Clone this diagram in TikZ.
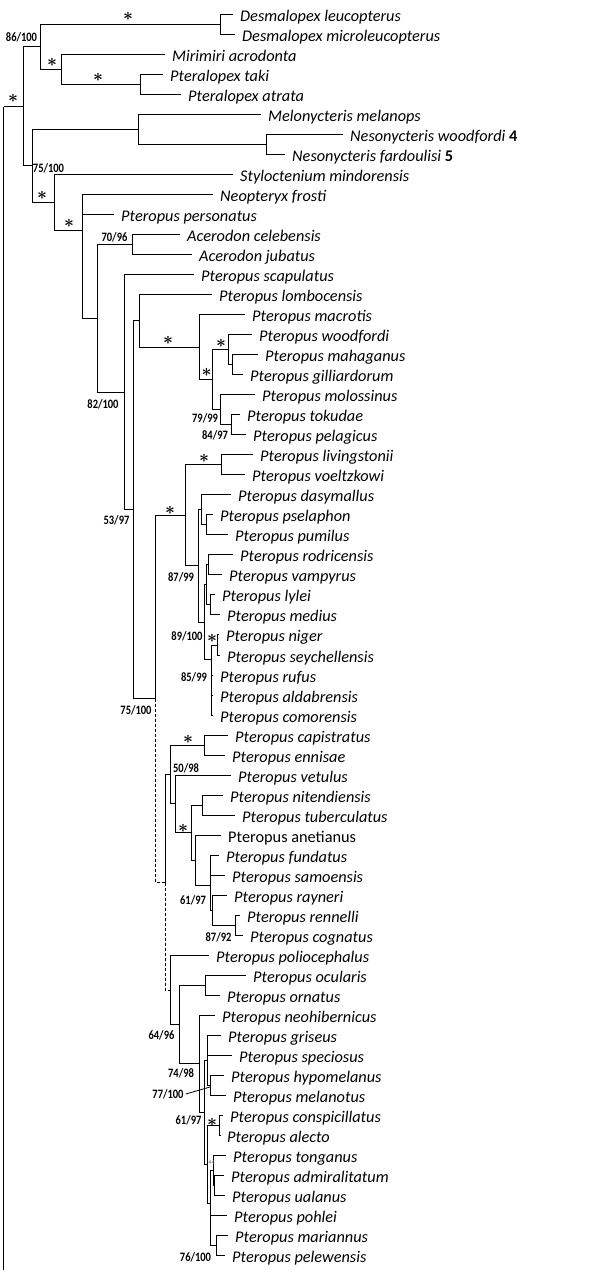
\documentclass[tikz,border=0pt]{standalone}
\usepackage{fontspec}
\setmainfont{Carlito}
\newfontfamily\labfont[FakeStretch=0.82]{Carlito}
\begin{document}
\begin{tikzpicture}[x=1pt,y=-1pt,
  br/.style={line width=1.2pt},
  dsh/.style={line width=1.2pt,dash pattern=on 3pt off 2pt},
  lf/.style={shorten >=7pt},
  tip/.style={anchor=west,inner sep=0pt,text height=13pt,text depth=0pt,font=\fontsize{16.3}{18}\selectfont\itshape},
  sup/.style={inner sep=0pt,font=\labfont\bfseries\fontsize{12.8}{13}\selectfont},
  star/.style={inner sep=0pt,font=\fontsize{17}{17}\selectfont\boldmath}]
\useasboundingbox (0,0) rectangle (593,1270);
% ---------- tips ----------
\node[tip] (t1) at (240,14.5) {Desmalopex leucopterus};
\node[tip] (t2) at (242,34.5) {Desmalopex microleucopterus};
\node[tip] (t3) at (172,54.5) {Mirimiri acrodonta};
\node[tip] (t4) at (170,74.5) {Pteralopex taki};
\node[tip] (t5) at (188,94.5) {Pteralopex atrata};
\node[tip] (t6) at (268,114.5) {Melonycteris melanops};
\node[tip] (t7) at (350,134.5) {Nesonycteris woodfordi {\upshape\bfseries 4}};
\node[tip] (t8) at (292,154.5) {Nesonycteris fardoulisi {\upshape\bfseries 5}};
\node[tip] (t9) at (240,174.5) {Styloctenium mindorensis};
\node[tip] (t10) at (220,194.5) {Neopteryx frosti};
\node[tip] (t11) at (121,214.5) {Pteropus personatus};
\node[tip] (t12) at (187,234.5) {Acerodon celebensis};
\node[tip] (t13) at (199,254.5) {Acerodon jubatus};
\node[tip] (t14) at (201,274.5) {Pteropus scapulatus};
\node[tip] (t15) at (219,294.5) {Pteropus lombocensis};
\node[tip] (t16) at (252,314.5) {Pteropus macrotis};
\node[tip] (t17) at (259,334.5) {Pteropus woodfordi};
\node[tip] (t18) at (265,354.5) {Pteropus mahaganus};
\node[tip] (t19) at (250,374.5) {Pteropus gilliardorum};
\node[tip] (t20) at (262,394.5) {Pteropus molossinus};
\node[tip] (t21) at (247,414.5) {Pteropus tokudae};
\node[tip] (t22) at (253,434.5) {Pteropus pelagicus};
\node[tip] (t23) at (260,454.5) {Pteropus livingstonii};
\node[tip] (t24) at (252,474.5) {Pteropus voeltzkowi};
\node[tip] (t25) at (238,494.5) {Pteropus dasymallus};
\node[tip] (t26) at (220,514.5) {Pteropus pselaphon};
\node[tip] (t27) at (235,534.5) {Pteropus pumilus};
\node[tip] (t28) at (240,554.5) {Pteropus rodricensis};
\node[tip] (t29) at (229,574.5) {Pteropus vampyrus};
\node[tip] (t30) at (222,594.5) {Pteropus lylei};
\node[tip] (t31) at (227,614.5) {Pteropus medius};
\node[tip] (t32) at (226,634.5) {Pteropus niger};
\node[tip] (t33) at (227,655.5) {Pteropus seychellensis};
\node[tip] (t34) at (220,675.5) {Pteropus rufus};
\node[tip] (t35) at (220,695.5) {Pteropus aldabrensis};
\node[tip] (t36) at (220,715.5) {Pteropus comorensis};
\node[tip] (t37) at (235,735.5) {Pteropus capistratus};
\node[tip] (t38) at (232,755.5) {Pteropus ennisae};
\node[tip] (t39) at (238,775.5) {Pteropus vetulus};
\node[tip] (t40) at (230,795.5) {Pteropus nitendiensis};
\node[tip] (t41) at (242,815.5) {Pteropus tuberculatus};
\node[tip] (t42) at (228,835.5) {\upshape Pteropus anetianus};
\node[tip] (t43) at (226,855.5) {Pteropus fundatus};
\node[tip] (t44) at (232,875.5) {Pteropus samoensis};
\node[tip] (t45) at (234,895.5) {Pteropus rayneri};
\node[tip] (t46) at (247,915.5) {Pteropus rennelli};
\node[tip] (t47) at (250,935.5) {Pteropus cognatus};
\node[tip] (t48) at (216,955.5) {Pteropus poliocephalus};
\node[tip] (t49) at (253,975.5) {Pteropus ocularis};
\node[tip] (t50) at (227,995.5) {Pteropus ornatus};
\node[tip] (t51) at (222,1015.5) {Pteropus neohibernicus};
\node[tip] (t52) at (228,1035.5) {Pteropus griseus};
\node[tip] (t53) at (239,1055.5) {Pteropus speciosus};
\node[tip] (t54) at (231,1075.5) {Pteropus hypomelanus};
\node[tip] (t55) at (233,1095.5) {Pteropus melanotus};
\node[tip] (t56) at (230,1115.5) {Pteropus conspicillatus};
\node[tip] (t57) at (227,1135.5) {Pteropus alecto};
\node[tip] (t58) at (233,1155.5) {Pteropus tonganus};
\node[tip] (t59) at (231,1175.5) {Pteropus admiralitatum};
\node[tip] (t60) at (232,1195.5) {Pteropus ualanus};
\node[tip] (t61) at (234,1215.5) {Pteropus pohlei};
\node[tip] (t62) at (235,1235.5) {Pteropus mariannus};
\node[tip] (t63) at (232,1255.5) {Pteropus pelewensis};
% ---------- internal nodes ----------
\coordinate (root) at (3.5,106.5);
\coordinate (rootend) at (3.5,1272);
\coordinate (n23) at (23.5,106.5);
\coordinate (n86) at (40.5,46.5);
\coordinate (nDes) at (220.5,24.5);
\coordinate (nMP) at (61.5,69.5);
\coordinate (nPtx) at (140.5,84.5);
\coordinate (n32) at (32.5,165.5);
\coordinate (nMel) at (138.5,129.5);
\coordinate (nNes) at (266.5,144.5);
\coordinate (n54) at (54.5,202.5);
\coordinate (n82) at (82.5,230.5);
\coordinate (n97) at (97.5,318.5);
\coordinate (nAce) at (132.5,244.5);
\coordinate (n124) at (124.5,392.5);
\coordinate (n133) at (133.5,509.5);
\coordinate (n139) at (139.5,320.5);
\coordinate (n199) at (199.5,347.5);
\coordinate (n212) at (212.5,379.5);
\coordinate (n228) at (228.5,349.5);
\coordinate (n232) at (232.5,364.5);
\coordinate (n220) at (220.5,409.5);
\coordinate (n231) at (231.5,424.5);
\coordinate (n155) at (155.5,698.5);
\coordinate (n185) at (185.5,515.5);
\coordinate (n221) at (221.5,464.5);
\coordinate (nB1) at (198.5,565.5);
\coordinate (nB2) at (201.5,509.5);
\coordinate (nB3) at (206.5,524.5);
\coordinate (nB4) at (204.5,622.5);
\coordinate (nB5) at (206.5,584.5);
\coordinate (nRV) at (208.5,564.5);
\coordinate (nLM) at (210.5,604.5);
\coordinate (nB6) at (211.5,659.5);
\coordinate (nNS) at (217.5,645.5);
\coordinate (n166) at (165.5,882.5);
\coordinate (n171) at (170.5,774.5);
\coordinate (nCE) at (204.5,745.5);
\coordinate (n175) at (175.5,803.5);
\coordinate (n192) at (191.5,832.5);
\coordinate (nNT) at (202.5,805.5);
\coordinate (n195) at (195.5,860.5);
\coordinate (n211) at (210.5,885.5);
\coordinate (n212b) at (212.5,910.5);
\coordinate (nRC) at (235.5,925.5);
\coordinate (n170) at (170.5,990.5);
\coordinate (n179) at (179.5,1024.5);
\coordinate (nOO) at (205.5,985.5);
\coordinate (n199b) at (199.5,1063.5);
\coordinate (n204) at (204.5,1112.5);
\coordinate (n207) at (207.5,1060.5);
\coordinate (nHM) at (210.5,1085.5);
\coordinate (n207b) at (207.5,1164.5);
\coordinate (nCA) at (219.5,1125.5);
\coordinate (n210) at (210.5,1203.5);
\coordinate (n213) at (213.5,1170.5);
\coordinate (nAU) at (214.5,1185.5);
\coordinate (nMP2) at (216.5,1245.5);
% ---------- branches ----------
\draw[br] (root) -- (rootend);
\draw[br] (root) -- (n23);
\draw[br] (n23) |- (n86);
\draw[br] (n23) |- (n32);
\draw[br] (n86) |- (nDes);
\draw[br] (n86) |- (nMP);
\draw[br,lf] (nDes) |- (t1.west);
\draw[br,lf] (nDes) |- (t2.west);
\draw[br,lf] (nMP) |- (t3.west);
\draw[br] (nMP) |- (nPtx);
\draw[br,lf] (nPtx) |- (t4.west);
\draw[br,lf] (nPtx) |- (t5.west);
\draw[br] (n32) |- (nMel);
\draw[br] (n32) |- (n54);
\draw[br,lf] (nMel) |- (t6.west);
\draw[br] (nMel) |- (nNes);
\draw[br,lf] (nNes) |- (t7.west);
\draw[br,lf] (nNes) |- (t8.west);
\draw[br,lf] (n54) |- (t9.west);
\draw[br] (n54) |- (n82);
\draw[br,lf] (n82) |- (t10.west);
\draw[br,lf] (n82) |- (t11.west);
\draw[br] (n82) |- (n97);
\draw[br] (n97) |- (nAce);
\draw[br] (n97) |- (n124);
\draw[br,lf] (nAce) |- (t12.west);
\draw[br,lf] (nAce) |- (t13.west);
\draw[br,lf] (n124) |- (t14.west);
\draw[br] (n124) |- (n133);
\draw[br] (n133) |- (n139);
\draw[br] (n133) |- (n155);
\draw[br,lf] (n139) |- (t15.west);
\draw[br] (n139) |- (n199);
\draw[br,lf] (n199) |- (t16.west);
\draw[br] (n199) |- (n212);
\draw[br] (n212) |- (n228);
\draw[br] (n212) |- (n220);
\draw[br,lf] (n228) |- (t17.west);
\draw[br] (n228) |- (n232);
\draw[br,lf] (n232) |- (t18.west);
\draw[br,lf] (n232) |- (t19.west);
\draw[br,lf] (n220) |- (t20.west);
\draw[br] (n220) |- (n231);
\draw[br,lf] (n231) |- (t21.west);
\draw[br,lf] (n231) |- (t22.west);
\draw[br] (n155) |- (n185);
\draw[dsh] (n155) |- (n166);
\draw[br] (n185) |- (n221);
\draw[br] (n185) |- (nB1);
\draw[br,lf] (n221) |- (t23.west);
\draw[br,lf] (n221) |- (t24.west);
\draw[br] (nB1) |- (nB2);
\draw[br] (nB1) |- (nB4);
\draw[br,lf] (nB2) |- (t25.west);
\draw[br] (nB2) |- (nB3);
\draw[br,lf] (nB3) |- (t26.west);
\draw[br,lf] (nB3) |- (t27.west);
\draw[br] (nB4) |- (nB5);
\draw[br] (nB4) |- (nB6);
\draw[br] (nB5) |- (nRV);
\draw[br] (nB5) |- (nLM);
\draw[br,lf] (nRV) |- (t28.west);
\draw[br,lf] (nRV) |- (t29.west);
\draw[br,lf] (nLM) |- (t30.west);
\draw[br,lf] (nLM) |- (t31.west);
\draw[br] (nB6) |- (nNS);
\draw[br,lf] (nB6) |- (t34.west);
\draw[br,lf] (nB6) |- (t35.west);
\draw[br,lf] (nB6) |- (t36.west);
\draw[br,lf] (nNS) |- (t32.west);
\draw[br,lf] (nNS) |- (t33.west);
\draw[br] (n166) |- (n171);
\draw[dsh] (n166) |- (n170);
\draw[br] (n171) |- (nCE);
\draw[br] (n171) |- (n175);
\draw[br,lf] (nCE) |- (t37.west);
\draw[br,lf] (nCE) |- (t38.west);
\draw[br,lf] (n175) |- (t39.west);
\draw[br] (n175) |- (n192);
\draw[br] (n192) |- (nNT);
\draw[br] (n192) |- (n195);
\draw[br,lf] (nNT) |- (t40.west);
\draw[br,lf] (nNT) |- (t41.west);
\draw[br,lf] (n195) |- (t42.west);
\draw[br] (n195) |- (n211);
\draw[br,lf] (n211) |- (t43.west);
\draw[br,lf] (n211) |- (t44.west);
\draw[br] (n211) |- (n212b);
\draw[br,lf] (n212b) |- (t45.west);
\draw[br] (n212b) |- (nRC);
\draw[br,lf] (nRC) |- (t46.west);
\draw[br,lf] (nRC) |- (t47.west);
\draw[br,lf] (n170) |- (t48.west);
\draw[br] (n170) |- (n179);
\draw[br] (n179) |- (nOO);
\draw[br] (n179) |- (n199b);
\draw[br,lf] (nOO) |- (t49.west);
\draw[br,lf] (nOO) |- (t50.west);
\draw[br,lf] (n199b) |- (t51.west);
\draw[br] (n199b) |- (n204);
\draw[br] (n204) |- (n207);
\draw[br] (n204) |- (n207b);
\draw[br,lf] (n207) |- (t52.west);
\draw[br,lf] (n207) |- (t53.west);
\draw[br] (n207) |- (nHM);
\draw[br,lf] (nHM) |- (t54.west);
\draw[br,lf] (nHM) |- (t55.west);
\draw[br] (n207b) |- (nCA);
\draw[br] (n207b) |- (n210);
\draw[br,lf] (nCA) |- (t56.west);
\draw[br,lf] (nCA) |- (t57.west);
\draw[br] (n210) |- (n213);
\draw[br,lf] (n210) |- (t61.west);
\draw[br] (n210) |- (nMP2);
\draw[br,lf] (n213) |- (t58.west);
\draw[br] (n213) |- (nAU);
\draw[br,lf] (nAU) |- (t59.west);
\draw[br,lf] (nAU) |- (t60.west);
\draw[br,lf] (nMP2) |- (t62.west);
\draw[br,lf] (nMP2) |- (t63.west);
% ---------- support values ----------
\node[sup] (s1) at (21.5,37) {86/100};
\node[sup] (s2) at (48.5,168) {75/100};
\node[sup] (s3) at (114.5,237) {70/96};
\node[sup] (s4) at (103,404) {82/100};
\node[sup] (s5) at (205,418) {79/99};
\node[sup] (s6) at (215,435) {84/97};
\node[sup] (s7) at (116.5,520) {53/97};
\node[sup] (s8) at (181,577) {87/99};
\node[sup] (s9) at (187,636) {89/100};
\node[sup] (s10) at (194,677) {85/99};
\node[sup] (s11) at (136,710) {75/100};
\node[sup] (s12) at (186,768) {50/98};
\node[sup] (s13) at (193,900) {61/97};
\node[sup] (s14) at (218.5,937) {87/92};
\node[sup] (s15) at (161.5,1035) {64/96};
\node[sup] (s16) at (181,1073) {74/98};
\node[sup] (s17) at (168,1094) {77/100};
\node[sup] (s18) at (188.5,1120) {61/97};
\node[sup] (s19) at (195.5,1257) {76/100};
\node[inner sep=0pt,font=\fontsize{6}{6}\selectfont,text=black!60] (s20) at (211.5,1163) {44};
\coordinate (l77) at (210,1087);
\draw[line width=0.8pt] ([xshift=2pt]s17.east) -- (l77);
% ---------- asterisks ----------
\node[star] (a1) at (128,16) {$\ast$};
\node[star] (a2) at (52,62) {$\ast$};
\node[star] (a3) at (98,77) {$\ast$};
\node[star] (a4) at (13,98) {$\ast$};
\node[star] (a5) at (42,195) {$\ast$};
\node[star] (a6) at (69,223) {$\ast$};
\node[star] (a7) at (168,340) {$\ast$};
\node[star] (a8) at (221,343) {$\ast$};
\node[star] (a9) at (206.7,372) {$\ast$};
\node[star] (a10) at (204,458) {$\ast$};
\node[star] (a11) at (170,510) {$\ast$};
\node[star] (a12) at (212,638) {$\ast$};
\node[star] (a13) at (188,739) {$\ast$};
\node[star] (a14) at (183,828) {$\ast$};
\node[star] (a15) at (212,1122) {$\ast$};
\end{tikzpicture}
\end{document}
